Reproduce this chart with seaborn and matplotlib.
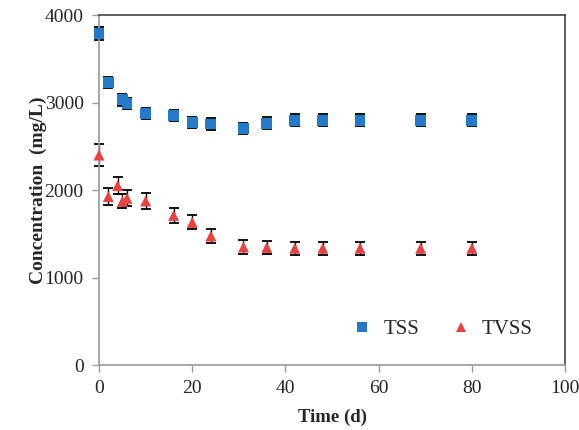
import numpy as np
import pandas as pd
import matplotlib
matplotlib.use("Agg")
import matplotlib.pyplot as plt
import seaborn as sns

# data
tss_time = [0, 2, 5, 6, 10, 16, 20, 24, 31, 36, 42, 48, 56, 69, 80]
tss_conc = [3790, 3230, 3030, 2990, 2875, 2850, 2770, 2755, 2700, 2765, 2800, 2800, 2800, 2800, 2800]
tss_err = [70, 65, 65, 65, 65, 65, 65, 65, 65, 65, 65, 65, 65, 65, 65]

tvss_time = [0, 2, 4, 5, 6, 10, 16, 20, 24, 31, 36, 42, 48, 56, 69, 80]
tvss_conc = [2400, 1925, 2050, 1870, 1905, 1875, 1710, 1630, 1475, 1350, 1345, 1335, 1335, 1335, 1335, 1335]
tvss_err = [125, 100, 100, 80, 90, 90, 90, 80, 75, 75, 75, 75, 75, 75, 75, 75]

df = pd.concat([
    pd.DataFrame({"Time": tss_time, "Conc": tss_conc, "err": tss_err, "Series": "TSS"}),
    pd.DataFrame({"Time": tvss_time, "Conc": tvss_conc, "err": tvss_err, "Series": "TVSS"}),
], ignore_index=True)

sns.set_style("white")
plt.rcParams["font.family"] = ["Liberation Serif", "DejaVu Serif"]

fig = plt.figure(figsize=(5.79, 4.30), dpi=100)
ax = fig.add_axes([0.171, 0.151, 0.805, 0.814])

colors = {"TSS": "#2479c8", "TVSS": "#e8413f"}
markers = {"TSS": "s", "TVSS": "^"}

for name, sub in df.groupby("Series"):
    eb = ax.errorbar(sub["Time"], sub["Conc"], yerr=sub["err"], fmt="none",
                     ecolor="black", elinewidth=1.0, capsize=3.5, capthick=1.3, zorder=2)
    for art in eb.lines[1]:
        art.set_clip_on(False)
    for art in eb.lines[2]:
        art.set_clip_on(False)

sns.scatterplot(data=df, x="Time", y="Conc", hue="Series", style="Series",
                palette=colors, markers=markers, s=62, edgecolor="none",
                linewidth=0, zorder=3, ax=ax)
for coll in ax.collections:
    coll.set_clip_on(False)

ax.set_xlim(0, 100)
ax.set_ylim(0, 4000)
ax.set_xticks(range(0, 101, 20))
ax.set_yticks(range(0, 4001, 1000))
ax.set_xlabel("Time (d)", fontsize=13.5, fontweight="bold", labelpad=8)
ax.set_ylabel("Concentration  (mg/L)", fontsize=14, fontweight="bold", labelpad=-2)
ax.tick_params(axis="both", labelsize=14, direction="out", length=5,
               color="#999999", width=1, left=True, bottom=True, pad=6)

for side in ["left", "bottom"]:
    ax.spines[side].set_color("#a0a0a0")
    ax.spines[side].set_linewidth(1.3)
for side in ["top", "right"]:
    ax.spines[side].set_color("#444444")
    ax.spines[side].set_linewidth(1.2)

leg = ax.legend(loc="lower right", bbox_to_anchor=(0.97, 0.02), ncol=2, frameon=False,
                fontsize=15, handletextpad=0.0, columnspacing=1.0, markerscale=0.85)

fig.savefig("out.png", dpi=100)
